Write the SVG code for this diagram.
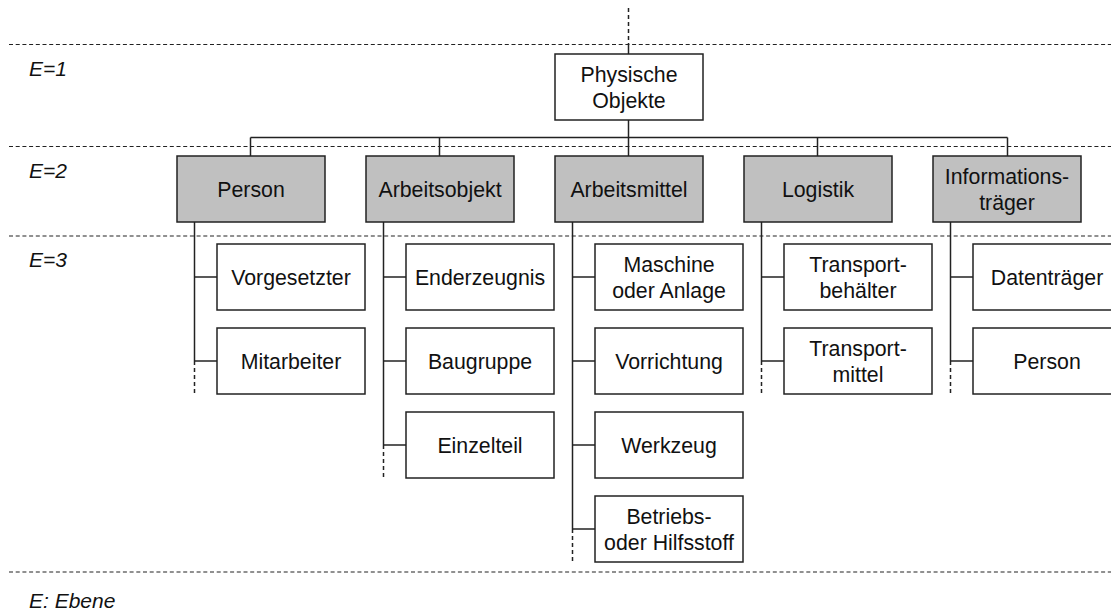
<svg xmlns="http://www.w3.org/2000/svg" width="1111" height="611" viewBox="0 0 1111 611">
  <style>
    .lvl { fill: none; stroke: #222; stroke-width: 1.1; stroke-dasharray: 4 2.7; }
    .lvl-label { font-family: "Liberation Sans", Arial, sans-serif; font-size: 21px; font-style: italic; fill: #111; }
    .box1 { fill: #fff; stroke: #222; stroke-width: 1.5; }
    .box2 { fill: #c0c0c0; stroke: #222; stroke-width: 1.5; }
    .box3 { fill: #fff; stroke: #222; stroke-width: 1.5; }
    .lbl { font-family: "Liberation Sans", Arial, sans-serif; font-size: 21.3px; fill: #111; text-anchor: middle; }
    .edge { fill: none; stroke: #222; stroke-width: 1.5; }
    .edge-dash { fill: none; stroke: #222; stroke-width: 1.5; stroke-dasharray: 4 3; }
  </style>

  <rect width="1111" height="611" fill="#fff"/>

  <!-- level separators -->
  <g id="levels">
    <line class="lvl" x1="9" y1="44.5" x2="1111" y2="44.5" stroke-dasharray="1 3 4 2.7"/>
    <line class="lvl" x1="9" y1="146.5" x2="1111" y2="146.5" stroke-dasharray="1 3 4 2.7"/>
    <line class="lvl" x1="9" y1="236" x2="1111" y2="236" stroke-dasharray="1 3 4 2.7"/>
    <line class="lvl" x1="9" y1="572" x2="1111" y2="572" stroke-dasharray="1 3 4 2.7"/>
    <text class="lvl-label" x="29" y="76">E=1</text>
    <text class="lvl-label" x="29" y="178">E=2</text>
    <text class="lvl-label" x="29" y="267">E=3</text>
    <text class="lvl-label" x="29" y="608">E: Ebene</text>
  </g>

  <!-- connectors -->
  <g id="connectors">
    <line class="edge-dash" x1="628.5" y1="8" x2="628.5" y2="44"/>
    <line class="edge" x1="628.5" y1="44" x2="628.5" y2="54"/>
    <line class="edge" x1="628.5" y1="120" x2="628.5" y2="137.5" stroke-width="2"/>
    <line class="edge" x1="250.5" y1="137.5" x2="1007.5" y2="137.5"/>
    <line class="edge" x1="250.5" y1="137.5" x2="250.5" y2="156"/>
    <line class="edge" x1="439.5" y1="137.5" x2="439.5" y2="156"/>
    <line class="edge" x1="628.5" y1="137.5" x2="628.5" y2="156"/>
    <line class="edge" x1="817.5" y1="137.5" x2="817.5" y2="156"/>
    <line class="edge" x1="1007.5" y1="137.5" x2="1007.5" y2="156"/>

    <!-- Person -->
    <line class="edge" x1="194.5" y1="222" x2="194.5" y2="361"/>
    <line class="edge-dash" x1="194.5" y1="361" x2="194.5" y2="394"/>
    <line class="edge" x1="194.5" y1="277" x2="217" y2="277"/>
    <line class="edge" x1="194.5" y1="361" x2="217" y2="361"/>
    <!-- Arbeitsobjekt -->
    <line class="edge" x1="383.5" y1="222" x2="383.5" y2="445"/>
    <line class="edge-dash" x1="383.5" y1="445" x2="383.5" y2="478"/>
    <line class="edge" x1="383.5" y1="277" x2="406" y2="277"/>
    <line class="edge" x1="383.5" y1="361" x2="406" y2="361"/>
    <line class="edge" x1="383.5" y1="445" x2="406" y2="445"/>
    <!-- Arbeitsmittel -->
    <line class="edge" x1="572.5" y1="222" x2="572.5" y2="529"/>
    <line class="edge-dash" x1="572.5" y1="529" x2="572.5" y2="562"/>
    <line class="edge" x1="572.5" y1="277" x2="595" y2="277"/>
    <line class="edge" x1="572.5" y1="361" x2="595" y2="361"/>
    <line class="edge" x1="572.5" y1="445" x2="595" y2="445"/>
    <line class="edge" x1="572.5" y1="529" x2="595" y2="529"/>
    <!-- Logistik -->
    <line class="edge" x1="761.5" y1="222" x2="761.5" y2="361"/>
    <line class="edge-dash" x1="761.5" y1="361" x2="761.5" y2="394"/>
    <line class="edge" x1="761.5" y1="277" x2="784" y2="277"/>
    <line class="edge" x1="761.5" y1="361" x2="784" y2="361"/>
    <!-- Informationsträger -->
    <line class="edge" x1="950.5" y1="222" x2="950.5" y2="361"/>
    <line class="edge-dash" x1="950.5" y1="361" x2="950.5" y2="394"/>
    <line class="edge" x1="950.5" y1="277" x2="973" y2="277"/>
    <line class="edge" x1="950.5" y1="361" x2="973" y2="361"/>
  </g>

  <!-- level 1 -->
  <g id="physische-objekte">
    <rect class="box1" x="555" y="54" width="148" height="66"/>
    <text class="lbl" x="629" y="82">Physische</text>
    <text class="lbl" x="629" y="107.5">Objekte</text>
  </g>

  <!-- level 2 -->
  <g id="person">
    <rect class="box2" x="177" y="156" width="148" height="66"/>
    <text class="lbl" x="251" y="196.5">Person</text>
  </g>
  <g id="arbeitsobjekt">
    <rect class="box2" x="366" y="156" width="148" height="66"/>
    <text class="lbl" x="440" y="196.5">Arbeitsobjekt</text>
  </g>
  <g id="arbeitsmittel">
    <rect class="box2" x="555" y="156" width="148" height="66"/>
    <text class="lbl" x="629" y="196.5">Arbeitsmittel</text>
  </g>
  <g id="logistik">
    <rect class="box2" x="744" y="156" width="148" height="66"/>
    <text class="lbl" x="818" y="196.5">Logistik</text>
  </g>
  <g id="informationstraeger">
    <rect class="box2" x="933" y="156" width="148" height="66"/>
    <text class="lbl" x="1007" y="184">Informations-</text>
    <text class="lbl" x="1007" y="209.5">träger</text>
  </g>

  <!-- level 3: Person -->
  <g id="vorgesetzter">
    <rect class="box3" x="217" y="244" width="148" height="66"/>
    <text class="lbl" x="291" y="284.5">Vorgesetzter</text>
  </g>
  <g id="mitarbeiter">
    <rect class="box3" x="217" y="328" width="148" height="66"/>
    <text class="lbl" x="291" y="368.5">Mitarbeiter</text>
  </g>

  <!-- level 3: Arbeitsobjekt -->
  <g id="enderzeugnis">
    <rect class="box3" x="406" y="244" width="148" height="66"/>
    <text class="lbl" x="480" y="284.5">Enderzeugnis</text>
  </g>
  <g id="baugruppe">
    <rect class="box3" x="406" y="328" width="148" height="66"/>
    <text class="lbl" x="480" y="368.5">Baugruppe</text>
  </g>
  <g id="einzelteil">
    <rect class="box3" x="406" y="412" width="148" height="66"/>
    <text class="lbl" x="480" y="452.5">Einzelteil</text>
  </g>

  <!-- level 3: Arbeitsmittel -->
  <g id="maschine">
    <rect class="box3" x="595" y="244" width="148" height="66"/>
    <text class="lbl" x="669" y="272">Maschine</text>
    <text class="lbl" x="669" y="297.5">oder Anlage</text>
  </g>
  <g id="vorrichtung">
    <rect class="box3" x="595" y="328" width="148" height="66"/>
    <text class="lbl" x="669" y="368.5">Vorrichtung</text>
  </g>
  <g id="werkzeug">
    <rect class="box3" x="595" y="412" width="148" height="66"/>
    <text class="lbl" x="669" y="452.5">Werkzeug</text>
  </g>
  <g id="betriebsstoff">
    <rect class="box3" x="595" y="496" width="148" height="66"/>
    <text class="lbl" x="669" y="524">Betriebs-</text>
    <text class="lbl" x="669" y="549.5">oder Hilfsstoff</text>
  </g>

  <!-- level 3: Logistik -->
  <g id="transportbehaelter">
    <rect class="box3" x="784" y="244" width="148" height="66"/>
    <text class="lbl" x="858" y="272">Transport-</text>
    <text class="lbl" x="858" y="297.5">behälter</text>
  </g>
  <g id="transportmittel">
    <rect class="box3" x="784" y="328" width="148" height="66"/>
    <text class="lbl" x="858" y="356">Transport-</text>
    <text class="lbl" x="858" y="381.5">mittel</text>
  </g>

  <!-- level 3: Informationsträger -->
  <g id="datentraeger">
    <rect class="box3" x="973" y="244" width="148" height="66"/>
    <text class="lbl" x="1047" y="284.5">Datenträger</text>
  </g>
  <g id="person-info">
    <rect class="box3" x="973" y="328" width="148" height="66"/>
    <text class="lbl" x="1047" y="368.5">Person</text>
  </g>
</svg>
